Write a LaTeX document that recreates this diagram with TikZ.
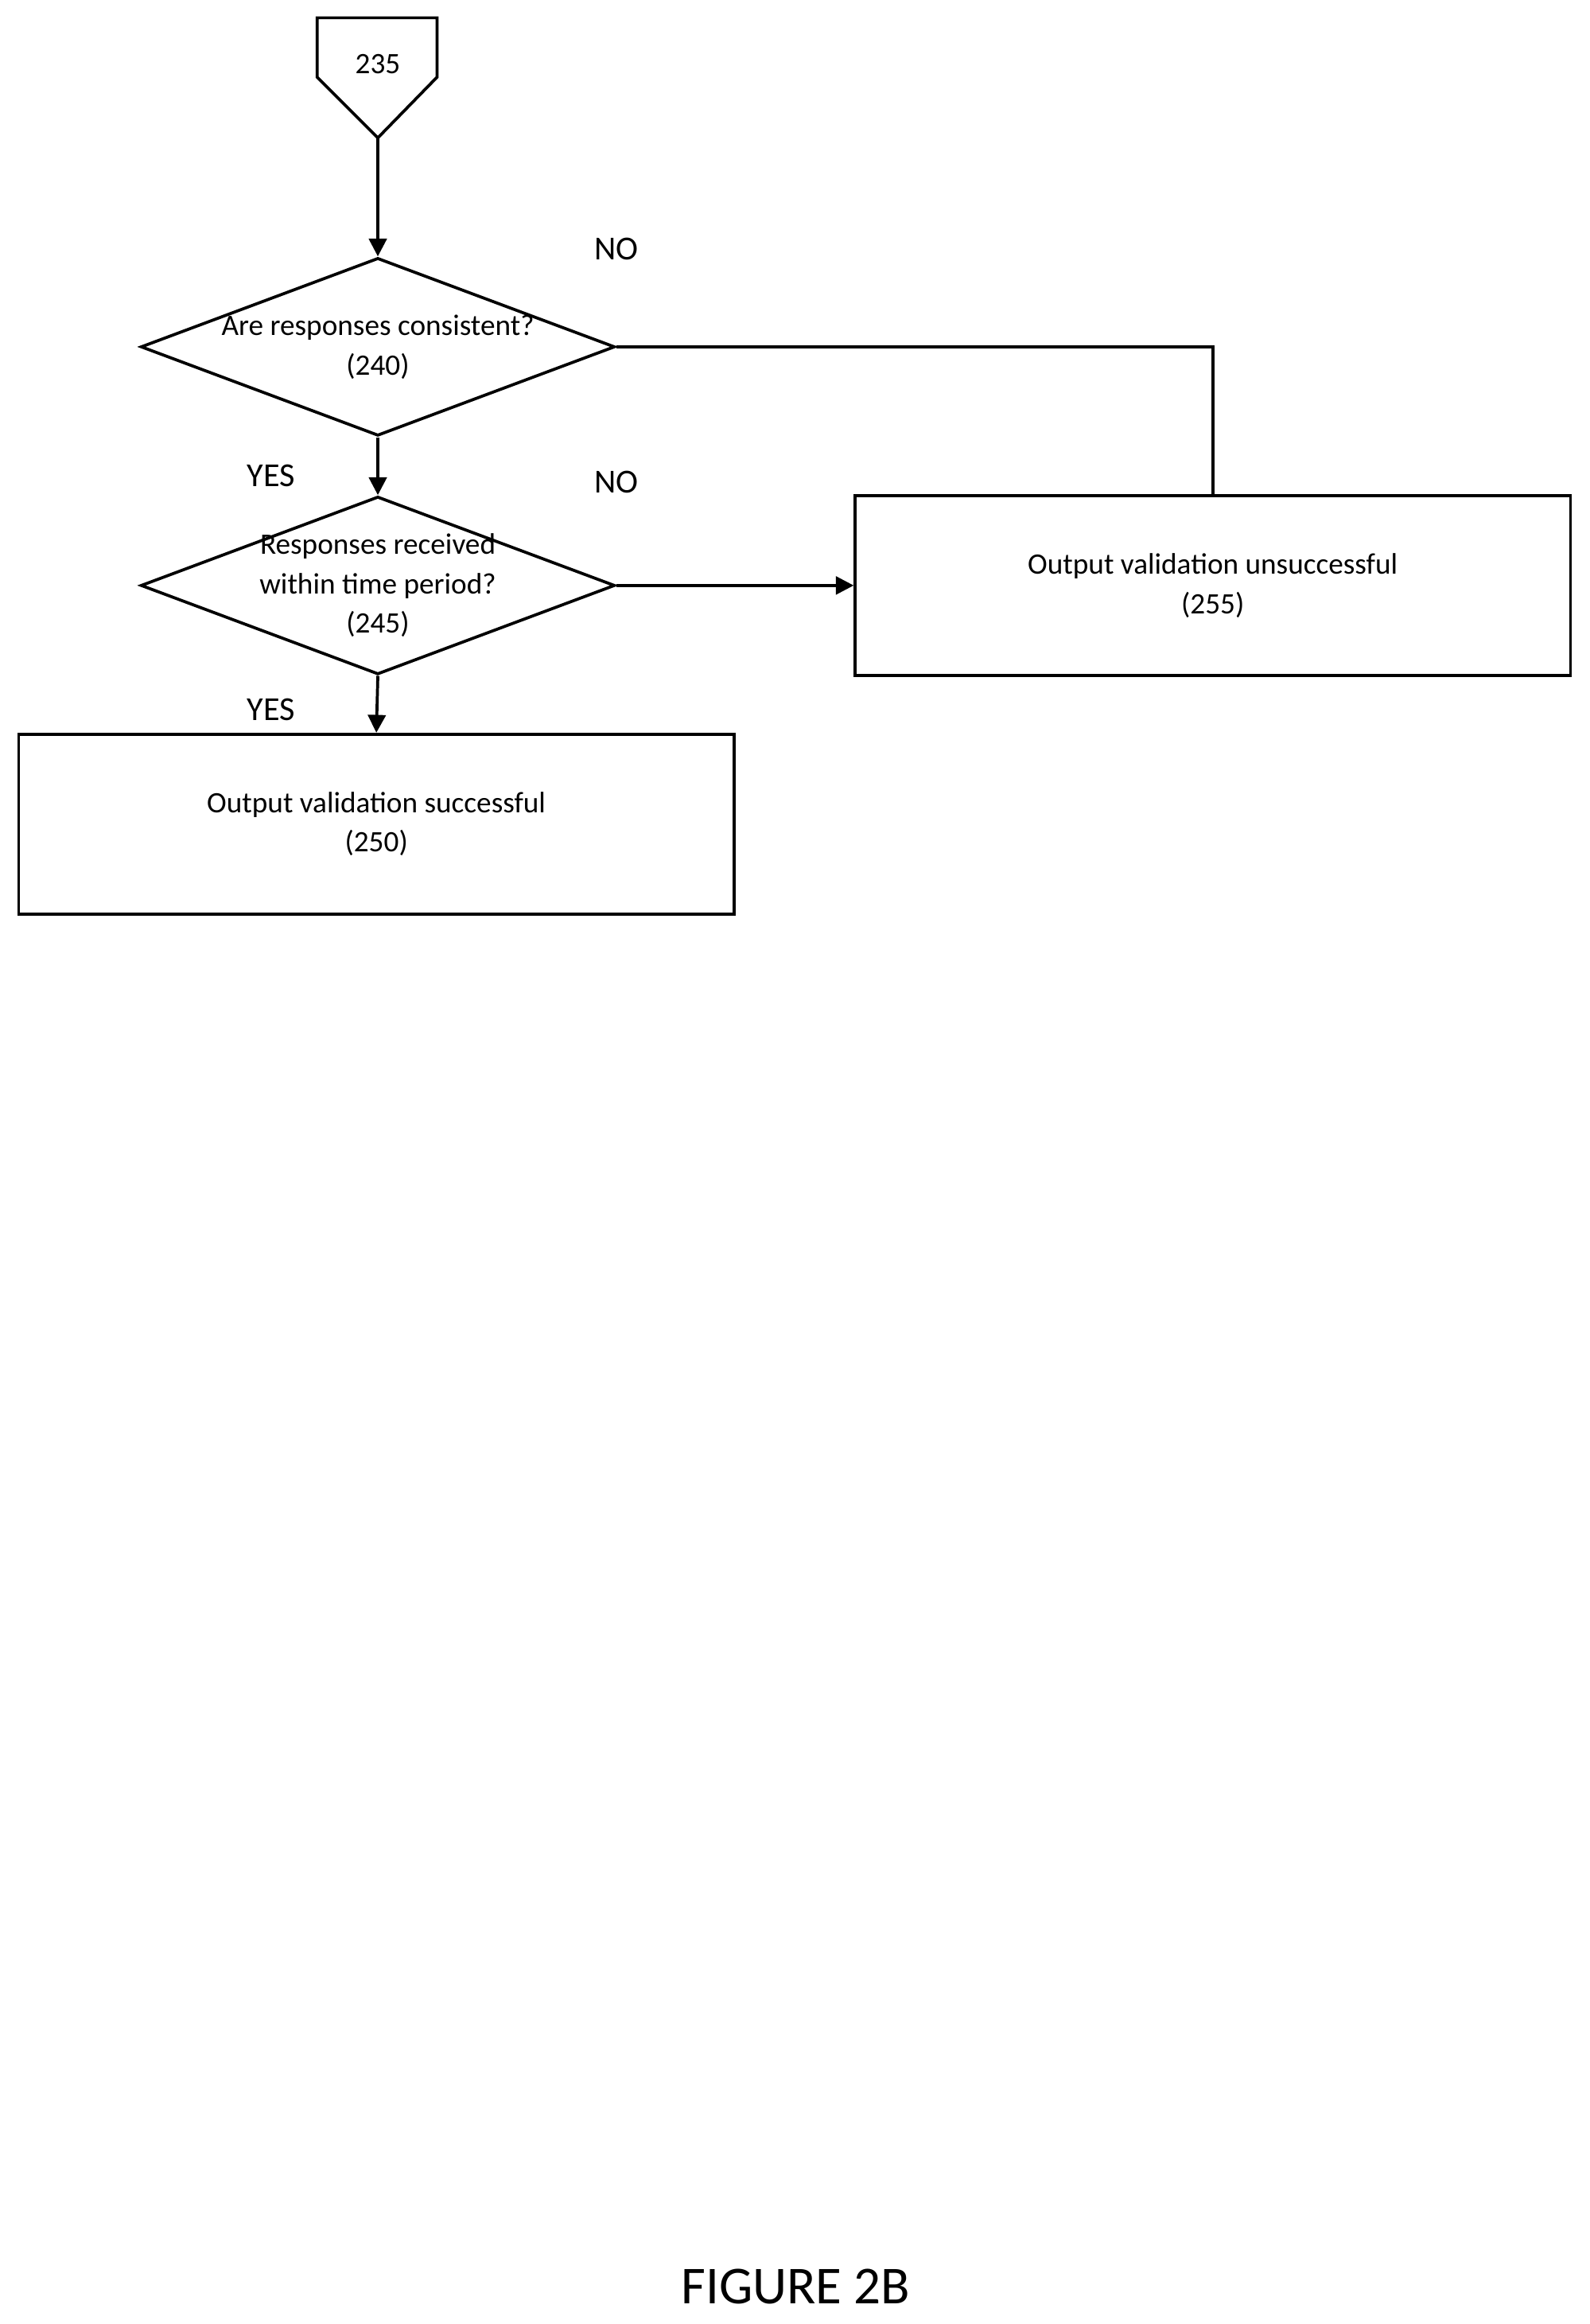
\documentclass[tikz,border=0pt]{standalone}
\usepackage{fontspec}
\setmainfont{Carlito}
\usetikzlibrary{shapes.geometric,arrows.meta}
\tikzset{
  dec/.style={diamond,draw,line width=1.5pt,inner sep=0pt,minimum width=240pt,minimum height=90pt},
  procbox/.style={rectangle,draw,line width=1.5pt,minimum width=362pt,minimum height=91pt},
  txt/.style={align=center,inner sep=0.75pt,font=\fontsize{15}{20}\selectfont},
  flow/.style={line width=1.5pt,-{Triangle[length=9pt,width=9pt]}},
}
\begin{document}
\begin{tikzpicture}[x=0.75pt,y=0.75pt,yscale=-1,xscale=1]
\useasboundingbox (0,0) rectangle (1073,1568);

%Shape: off-page connector
\draw[line width=1.5pt] (214,12) -- (295,12) -- (295,52) -- (255,93) -- (214,52) -- cycle;
\coordinate (c235) at (255,93);
\node[txt] (t235) at (255,43) {235};

%Decisions
\node[dec] (d240) at (255,234) {};
\node[txt] at (255,234) {Are responses consistent?\\(240)};
\node[dec] (d245) at (255,395) {};
\node[txt] at (255,395) {Responses received\\within time period?\\(245)};

%Boxes
\node[procbox] (b255) at (818.5,395) {};
\node[txt] at (818.5,395) {Output validation unsuccessful\\(255)};
\node[procbox] (b250) at (254,556) {};
\node[txt] at (254,556) {Output validation successful\\(250)};

%Connectors
\draw[flow] (c235) -- (d240.north);
\draw[flow] (d240.south) -- (d245.north);
\draw[flow] (d245.south) -- (b250.north);
\draw[flow] (d245.east) -- (b255.west);
\draw[line width=1.5pt] (d240.east) -| (b255.north);

% Text Node
\node[txt,font=\fontsize{17}{20}\selectfont] at (416,168) {NO};
\node[txt,font=\fontsize{17}{20}\selectfont] at (416,325) {NO};
\node[txt,font=\fontsize{17}{20}\selectfont] at (183,321) {YES};
\node[txt,font=\fontsize{17}{20}\selectfont] at (183,479) {YES};
\node[font=\fontsize{27}{30}\selectfont] at (537,1543) {FIGURE 2B};

\end{tikzpicture}
\end{document}
